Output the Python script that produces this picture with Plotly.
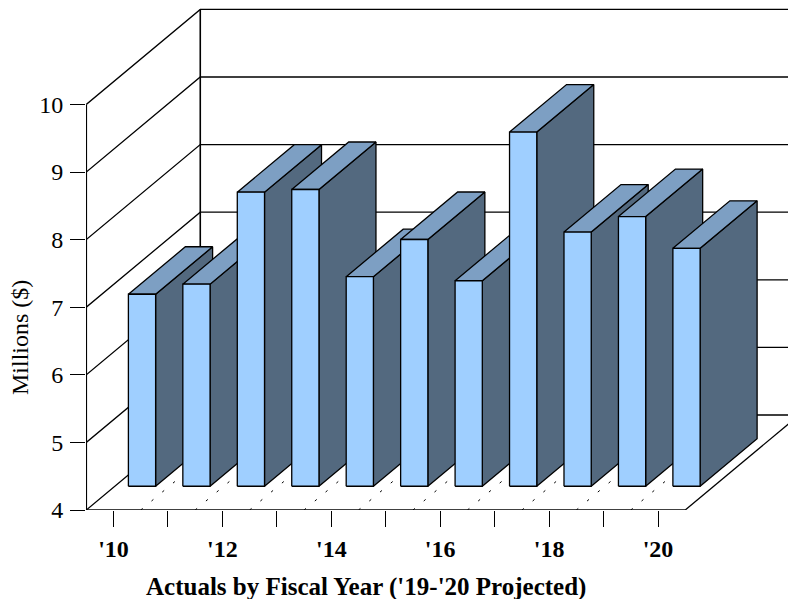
import plotly.graph_objects as go

# Data
years = [2010, 2011, 2012, 2013, 2014, 2015, 2016, 2017, 2018, 2019, 2020]
values = [6.84, 6.99, 8.35, 8.39, 7.10, 7.65, 7.04, 9.24, 7.76, 7.99, 7.52]
x_tick_labels = ["'10", "", "'12", "", "'14", "", "'16", "", "'18", "", "'20"]
y_ticks = [4, 5, 6, 7, 8, 9, 10]

# Oblique projection: a point at depth d (0..1) moves right and up
PX_X = 54.45
PX_Y = 67.6
DEPTH_X = 114 / PX_X
DEPTH_Y = 95 / PX_Y
BASE = 4
BAR_HALF = 0.25
BAR_D0, BAR_D1 = 0.25, 0.75

FRONT = "#9FCFFF"
TOP = "#7D9FC3"
SIDE = "#53697F"
FONT = "Liberation Serif"
LW = 1.3


def proj(x, y, d=0.0):
    return x + d * DEPTH_X, y + d * DEPTH_Y


fig = go.Figure()


def line(points, dash="solid", width=LW):
    xs, ys = zip(*points)
    fig.add_trace(go.Scatter(x=xs, y=ys, mode="lines", cliponaxis=False, hoverinfo="skip",
                             line=dict(color="black", width=width, dash=dash)))


x_lo, x_hi = years[0] - 0.5, years[-1] + 0.5
y_lo, y_hi = y_ticks[0], y_ticks[-1]

# Grid on the walls
for v in y_ticks:
    line([proj(x_lo, v, 0), proj(x_lo, v, 1), proj(x_hi + 3, v, 1)])
line([proj(x_lo, y_lo, 1), proj(x_lo, y_hi, 1)], width=1.6)
# Dotted lines on the floor
for year in years[:-1]:
    line([proj(year + 0.5, y_lo, 0), proj(year + 0.5, y_lo, 1)], dash="2.5px,11.5px", width=1)
# Box edges
line([proj(x_lo, y_lo), proj(x_lo, y_hi)], width=1.6)
line([proj(x_lo, y_lo), proj(x_hi, y_lo)])
line([proj(x_hi, y_lo, 0), proj(x_hi, y_lo, 1)])


def face(points, color):
    xs, ys = zip(*(points + points[:1]))
    fig.add_trace(go.Scatter(x=xs, y=ys, mode="lines", fill="toself", fillcolor=color,
                             line=dict(color="black", width=LW), hoverinfo="skip"))


for year, val in zip(years, values):
    l, r = year - BAR_HALF, year + BAR_HALF
    face([proj(r, BASE, BAR_D0), proj(r, BASE, BAR_D1), proj(r, val, BAR_D1), proj(r, val, BAR_D0)], SIDE)
    face([proj(l, val, BAR_D0), proj(r, val, BAR_D0), proj(r, val, BAR_D1), proj(l, val, BAR_D1)], TOP)
    face([proj(l, BASE, BAR_D0), proj(r, BASE, BAR_D0), proj(r, val, BAR_D0), proj(l, val, BAR_D0)], FRONT)

W, H = 788, 599
LEFT, BOTTOM = 86, 89
x0 = years[0] - (113.5 - LEFT) / PX_X
x1 = x0 + (W - LEFT) / PX_X
y1 = BASE + (H - BOTTOM) / PX_Y

fig.update_layout(
    width=W, height=H, showlegend=False,
    margin=dict(l=LEFT, r=0, t=0, b=BOTTOM, pad=0),
    paper_bgcolor="white", plot_bgcolor="white",
    font=dict(family=FONT, color="black"),
    xaxis=dict(range=[x0, x1], tickmode="array", tickvals=years, ticktext=x_tick_labels,
               ticks="outside", ticklen=16, tickwidth=1.3, tickcolor="black", showgrid=False,
               zeroline=False, showline=False, tickangle=0, ticklabelstandoff=1,
               tickfont=dict(family=FONT, size=24, weight="bold")),
    yaxis=dict(range=[BASE, y1], tickmode="array", tickvals=y_ticks,
               ticks="outside", ticklen=15, tickwidth=1.3, tickcolor="black", showgrid=False,
               zeroline=False, showline=False, ticklabelstandoff=2,
               tickfont=dict(family=FONT, size=24)),
    annotations=[
        dict(text="Actuals by Fiscal Year ('19-'20 Projected)", xref="paper", yref="paper",
             x=(366 - LEFT) / (W - LEFT), y=-(587 - (H - BOTTOM)) / (H - BOTTOM),
             xanchor="center", yanchor="middle", showarrow=False,
             font=dict(family=FONT, size=25, weight="bold")),
        dict(text="Millions ($)", xref="paper", yref="paper", textangle=-90,
             x=-(LEFT - 20) / (W - LEFT), y=(H - BOTTOM - 338) / (H - BOTTOM),
             xanchor="center", yanchor="middle", showarrow=False,
             font=dict(family=FONT, size=24)),
    ],
)

fig.write_html("out.html", config={"displayModeBar": False},
               post_script="document.body.style.margin='0';")
